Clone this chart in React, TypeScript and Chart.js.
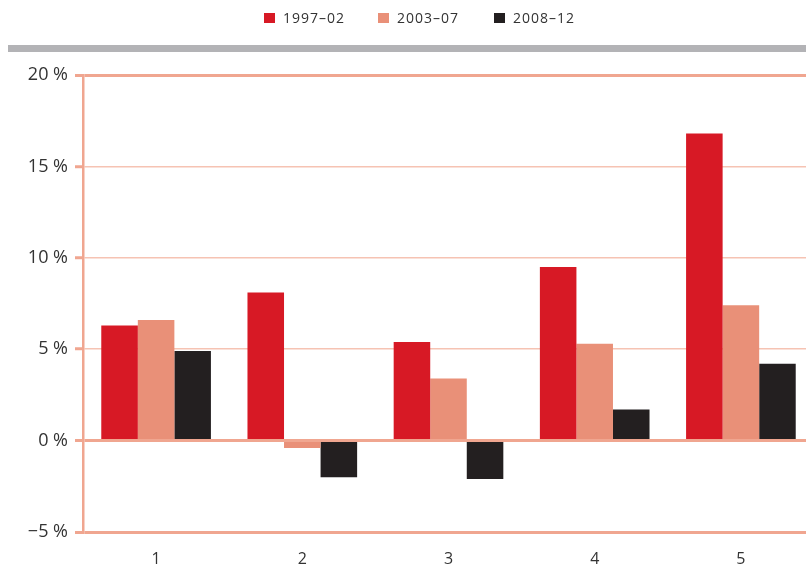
import React, { useEffect, useRef } from "react";
import { Chart, registerables } from "chart.js";

Chart.register(...registerables);

const categories = ["1", "2", "3", "4", "5"];
const seriesNames = ["1997–02", "2003–07", "2008–12"];
const series1997 = [6.3, 8.1, 5.4, 9.5, 16.8];
const series2003 = [6.6, -0.4, 3.4, 5.3, 7.4];
const series2008 = [4.9, -2.0, -2.1, 1.7, 4.2];
const seriesColors = ["#d71925", "#e99078", "#231f20"];
const yTicks = [-5, 0, 5, 10, 15, 20];

const AXIS = "#f0a690";
const GRID_LIGHT = "#f6c3b3";
const FONT = "'Open Sans', 'DejaVu Sans', sans-serif";

const decorPlugin = {
  id: "decor",
  afterDraw(chart: any) {
    const ctx = chart.ctx as CanvasRenderingContext2D;
    ctx.save();
    // gray band
    ctx.fillStyle = "#b3b3b6";
    ctx.fillRect(8, 45, 806, 7);
    // legend
    const xs = [264, 378, 494];
    ctx.font = `14px ${FONT}`;
    ctx.textBaseline = "middle";
    ctx.textAlign = "left";
    (ctx as any).letterSpacing = "1px";
    seriesNames.forEach((name, i) => {
      ctx.fillStyle = seriesColors[i];
      ctx.fillRect(xs[i], 13, 11, 10);
      ctx.fillStyle = "#333333";
      ctx.fillText(name, xs[i] + 19, 19);
    });
    ctx.restore();
  },
};

export default function App() {
  const ref = useRef<HTMLCanvasElement | null>(null);
  useEffect(() => {
    if (!ref.current) return;
    const chart = new Chart(ref.current, {
      type: "bar",
      data: {
        labels: categories,
        datasets: [series1997, series2003, series2008].map((d, i) => ({
          label: seriesNames[i],
          data: d,
          backgroundColor: seriesColors[i],
          borderWidth: 0,
          categoryPercentage: 0.75,
          barPercentage: 1.0,
        })),
      },
      options: {
        animation: false,
        responsive: false,
        layout: { padding: { top: 75, left: 0, right: 0, bottom: 0 } },
        plugins: { legend: { display: false }, tooltip: { enabled: false } },
        scales: {
          x: {
            grid: { display: false },
            border: { display: false },
            ticks: {
              color: "#333333",
              font: { family: FONT, size: 16 },
              padding: 10,
            },
            afterFit(scale: any) {
              scale.height = 35;
            },
          },
          y: {
            min: -5,
            max: 20,
            afterBuildTicks(scale: any) {
              scale.ticks = yTicks.map((v) => ({ value: v }));
            },
            ticks: {
              color: "#333333",
              font: { family: FONT, size: 18 },
              padding: 7,
              callback: (v: any) =>
                (Number(v) < 0 ? "−" + Math.abs(Number(v)) : String(v)) + " %",
            },
            grid: {
              drawTicks: true,
              tickLength: 8,
              tickWidth: 3,
              tickColor: AXIS,
              color: (c: any) => {
                const v = c.tick ? c.tick.value : 0;
                return v === 0 || v === 20 || v === -5 ? AXIS : GRID_LIGHT;
              },
              lineWidth: (c: any) => {
                const v = c.tick ? c.tick.value : 0;
                return v === 0 || v === 20 || v === -5 ? 3 : 1.5;
              },
            },
            border: { display: true, color: AXIS, width: 2.5 },
            afterFit(scale: any) {
              scale.width = 83;
            },
          },
        },
      },
      plugins: [decorPlugin],
    });
    return () => chart.destroy();
  }, []);

  return (
    <div
      style={{
        position: "absolute",
        left: 0,
        top: 0,
        width: 806,
        height: 567,
        overflow: "hidden",
        background: "#ffffff",
      }}
    >
      <canvas ref={ref} width={814} height={567} style={{ display: "block" }} />
    </div>
  );
}
